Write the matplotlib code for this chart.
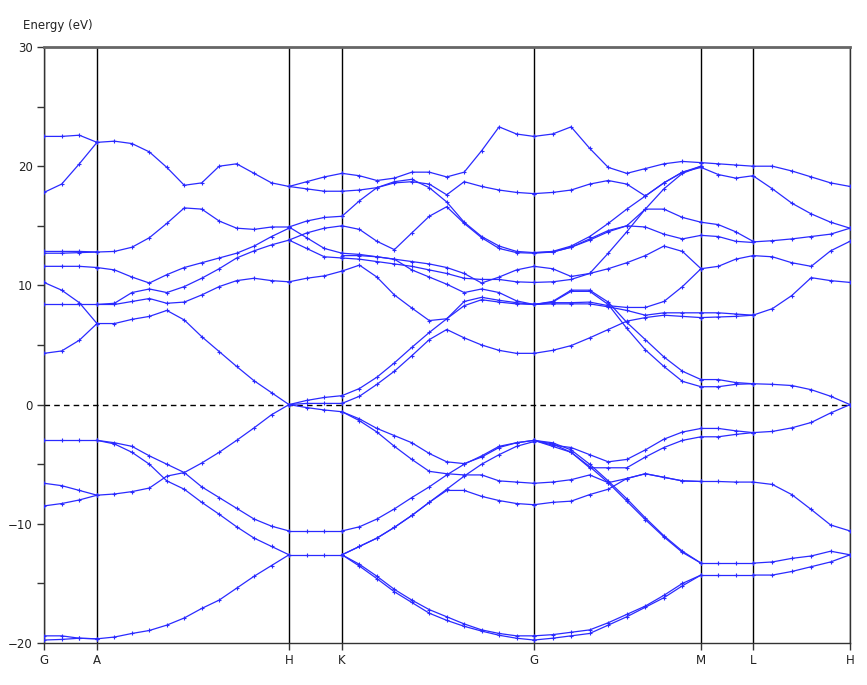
import matplotlib
matplotlib.use('Agg')
import matplotlib.pyplot as plt
import numpy as np

# high-symmetry path
kpoint_labels = ['G', 'A', 'H', 'K', 'G', 'M', 'L', 'H']
kpoint_pos = [0, 53, 245, 298, 490, 657, 709, 806]

# energies (eV) per path segment, one list per band
bands_GA = [
    [22.5, 22.5, 22.6, 22.0],
    [17.8, 18.5, 20.2, 22.0],
    [12.85, 12.85, 12.85, 12.8],
    [12.7, 12.7, 12.75, 12.8],
    [11.6, 11.6, 11.6, 11.5],
    [10.25, 9.6, 8.55, 6.8],
    [8.4, 8.4, 8.4, 8.4],
    [4.3, 4.5, 5.4, 6.8],
    [-3.0, -3.0, -3.0, -3.0],
    [-6.6, -6.8, -7.2, -7.6],
    [-8.5, -8.3, -8.0, -7.6],
    [-19.4, -19.4, -19.6, -19.65],
    [-19.75, -19.7, -19.6, -19.65],
]

bands_AH = [
    [22.0, 22.1, 21.9, 21.2, 19.9, 18.4, 18.6, 20.0, 20.2, 19.4, 18.6, 18.3],
    [12.8, 12.85, 13.2, 14.0, 15.2, 16.5, 16.4, 15.4, 14.8, 14.7, 14.9, 14.9],
    [11.5, 11.3, 10.7, 10.2, 10.9, 11.5, 11.9, 12.3, 12.7, 13.3, 14.1, 14.8],
    [8.4, 8.5, 9.4, 9.7, 9.4, 9.9, 10.6, 11.4, 12.3, 12.9, 13.4, 13.8],
    [8.4, 8.4, 8.65, 8.9, 8.5, 8.6, 9.2, 9.9, 10.4, 10.6, 10.4, 10.3],
    [6.8, 6.8, 7.15, 7.4, 7.9, 7.1, 5.7, 4.45, 3.2, 2.0, 1.0, 0.0],
    [-3.0, -3.2, -3.5, -4.3, -5.0, -5.7, -6.9, -7.8, -8.7, -9.6, -10.2, -10.6],
    [-3.0, -3.3, -4.0, -5.0, -6.4, -7.1, -8.2, -9.2, -10.25, -11.2, -11.9, -12.6],
    [-7.6, -7.5, -7.3, -7.0, -6.0, -5.7, -4.9, -4.0, -3.0, -1.95, -0.85, 0.0],
    [-19.65, -19.5, -19.2, -18.95, -18.5, -17.9, -17.1, -16.4, -15.4, -14.4, -13.5, -12.6],
]

bands_HK = [
    [18.3, 18.7, 19.1, 19.4],
    [18.3, 18.1, 17.9, 17.9],
    [14.9, 15.4, 15.7, 15.8],
    [14.9, 14.0, 13.1, 12.7],
    [13.8, 14.4, 14.8, 15.0],
    [13.8, 13.1, 12.4, 12.3],
    [10.3, 10.6, 10.8, 11.2],
    [0.0, 0.35, 0.6, 0.75],
    [0.0, 0.1, 0.1, 0.1],
    [0.0, -0.25, -0.45, -0.6],
    [-10.6, -10.6, -10.6, -10.6],
    [-12.6, -12.6, -12.6, -12.6],
]

bands_KG = [
    [19.4, 19.2, 18.8, 19.0, 19.5, 19.5, 19.1, 19.5, 21.3, 23.3, 22.7, 22.5],
    [17.9, 18.0, 18.2, 18.6, 18.7, 18.5, 17.6, 18.7, 18.3, 18.0, 17.8, 17.7],
    [15.8, 17.1, 18.2, 18.7, 18.9, 18.2, 17.0, 15.3, 14.1, 13.3, 12.85, 12.75],
    [15.0, 14.7, 13.7, 13.0, 14.4, 15.8, 16.6, 15.2, 14.0, 13.1, 12.75, 12.7],
    [12.7, 12.6, 12.4, 12.2, 12.0, 11.8, 11.5, 11.0, 10.2, 10.7, 11.3, 11.6],
    [12.3, 12.2, 12.0, 11.8, 11.6, 11.3, 11.0, 10.6, 10.5, 10.5, 10.3, 10.25],
    [12.5, 12.5, 12.4, 12.2, 11.3, 10.7, 10.1, 9.4, 9.7, 9.4, 8.7, 8.4],
    [11.2, 11.7, 10.7, 9.2, 8.1, 7.05, 7.2, 8.3, 8.8, 8.6, 8.45, 8.4],
    [0.75, 1.35, 2.3, 3.5, 4.8, 6.05, 7.2, 8.65, 9.0, 8.75, 8.55, 8.4],
    [0.1, 0.7, 1.7, 2.8, 4.1, 5.45, 6.3, 5.6, 5.0, 4.55, 4.3, 4.3],
    [-0.6, -1.2, -2.0, -2.6, -3.2, -4.1, -4.8, -4.95, -4.4, -3.6, -3.2, -3.0],
    [-0.6, -1.35, -2.3, -3.5, -4.6, -5.6, -5.8, -5.9, -5.9, -6.4, -6.5, -6.6],
    [-10.6, -10.25, -9.6, -8.75, -7.8, -6.9, -5.9, -5.0, -4.3, -3.5, -3.2, -3.0],
    [-12.6, -11.9, -11.2, -10.3, -9.3, -8.2, -7.1, -6.0, -5.0, -4.2, -3.5, -3.1],
    [-12.6, -11.9, -11.2, -10.3, -9.3, -8.2, -7.2, -7.2, -7.7, -8.05, -8.3, -8.4],
    [-12.6, -13.4, -14.4, -15.5, -16.4, -17.2, -17.8, -18.4, -18.9, -19.2, -19.4, -19.4],
    [-12.6, -13.55, -14.6, -15.7, -16.6, -17.5, -18.1, -18.6, -19.0, -19.35, -19.6, -19.75],
]

bands_GM = [
    [22.5, 22.7, 23.3, 21.5, 19.9, 19.4, 19.8, 20.2, 20.4, 20.3],
    [17.7, 17.8, 18.0, 18.5, 18.8, 18.5, 17.5, 18.6, 19.5, 19.9],
    [12.75, 12.85, 13.3, 14.1, 15.2, 16.4, 17.5, 18.6, 19.5, 20.0],
    [12.7, 12.8, 13.2, 13.8, 14.5, 15.0, 16.4, 16.4, 15.7, 15.3],
    [12.75, 12.8, 13.2, 13.9, 14.6, 15.0, 14.9, 14.3, 13.9, 14.2],
    [11.6, 11.4, 10.75, 11.0, 12.7, 14.5, 16.4, 18.1, 19.4, 20.0],
    [10.25, 10.3, 10.5, 11.0, 11.4, 11.9, 12.5, 13.3, 12.85, 11.4],
    [8.4, 8.65, 9.6, 9.6, 8.6, 6.9, 5.45, 4.0, 2.8, 2.1],
    [8.4, 8.6, 9.5, 9.5, 8.4, 6.4, 4.6, 3.2, 1.95, 1.5],
    [8.4, 8.55, 8.55, 8.6, 8.3, 8.15, 8.15, 8.65, 9.9, 11.4],
    [8.4, 8.45, 8.45, 8.45, 8.2, 7.9, 7.5, 7.7, 7.7, 7.7],
    [4.3, 4.55, 4.95, 5.6, 6.3, 7.0, 7.3, 7.5, 7.4, 7.3],
    [-3.0, -3.4, -3.6, -4.2, -4.8, -4.6, -3.8, -2.9, -2.3, -2.0],
    [-3.0, -3.5, -4.0, -5.3, -5.3, -5.3, -4.4, -3.6, -3.0, -2.7],
    [-6.6, -6.5, -6.3, -5.9, -6.55, -6.2, -5.8, -6.1, -6.4, -6.45],
    [-8.4, -8.2, -8.1, -7.55, -7.1, -6.2, -5.8, -6.1, -6.4, -6.45],
    [-3.0, -3.3, -4.0, -5.2, -6.55, -8.1, -9.65, -11.1, -12.4, -13.3],
    [-3.0, -3.2, -3.8, -5.0, -6.4, -7.9, -9.5, -11.0, -12.3, -13.3],
    [-19.4, -19.3, -19.1, -18.9, -18.3, -17.6, -16.9, -16.0, -15.0, -14.3],
    [-19.75, -19.6, -19.4, -19.2, -18.5, -17.8, -17.0, -16.2, -15.2, -14.3],
]

bands_ML = [
    [20.3, 20.2, 20.1, 20.0],
    [19.9, 19.3, 19.0, 19.2],
    [15.3, 15.1, 14.5, 13.7],
    [14.2, 14.1, 13.7, 13.6],
    [11.4, 11.6, 12.2, 12.5],
    [2.1, 2.1, 1.85, 1.75],
    [1.5, 1.5, 1.7, 1.75],
    [7.7, 7.7, 7.6, 7.5],
    [7.3, 7.35, 7.4, 7.5],
    [-2.0, -2.0, -2.2, -2.35],
    [-2.7, -2.7, -2.5, -2.35],
    [-6.45, -6.45, -6.5, -6.5],
    [-13.3, -13.3, -13.3, -13.3],
    [-14.3, -14.3, -14.3, -14.3],
]

bands_LH = [
    [20.0, 20.0, 19.6, 19.1, 18.6, 18.3],
    [19.2, 18.1, 16.9, 16.0, 15.3, 14.8],
    [13.65, 13.75, 13.9, 14.1, 14.3, 14.8],
    [12.5, 12.4, 11.9, 11.6, 12.9, 13.7],
    [7.5, 8.05, 9.15, 10.65, 10.4, 10.25],
    [1.75, 1.7, 1.6, 1.25, 0.7, 0.0],
    [-2.35, -2.25, -1.95, -1.5, -0.7, 0.0],
    [-6.5, -6.7, -7.55, -8.8, -10.1, -10.6],
    [-13.3, -13.2, -12.9, -12.7, -12.3, -12.6],
    [-14.3, -14.3, -14.0, -13.6, -13.2, -12.6],
]

segments = [bands_GA, bands_AH, bands_HK, bands_KG, bands_GM, bands_ML, bands_LH]

plt.rcParams['font.family'] = ['DejaVu Sans']

fig = plt.figure(figsize=(8.67, 6.85), dpi=100)
ax = fig.add_axes([44 / 867, 1 - 643 / 685, 806 / 867, 596 / 685])

for i, seg in enumerate(segments):
    for band in seg:
        k = np.linspace(kpoint_pos[i], kpoint_pos[i + 1], len(band))
        ax.plot(k, band, color='#2a2aff', lw=0.9, marker='+', ms=3.5, mew=0.8,
                zorder=3)

for p in kpoint_pos:
    ax.axvline(p, color='black', lw=1.0, zorder=2)
ax.axhline(0, color='black', lw=1.0, ls=(0, (4, 3)), zorder=2)

ax.set_xlim(kpoint_pos[0], kpoint_pos[-1])
ax.set_ylim(-20, 30)
ax.set_xticks(kpoint_pos)
ax.set_xticklabels(kpoint_labels)
ax.set_yticks(range(-20, 31, 10))
ax.set_yticks(range(-15, 30, 10), minor=True)
ax.tick_params(axis='both', which='both', direction='out', length=5, width=1,
               color='#333333', labelsize=8.5, labelcolor='#222222', pad=3)

for name, sp in ax.spines.items():
    sp.set_color('#333333')
    sp.set_linewidth(1.0)
ax.spines['top'].set_color('#666666')
ax.spines['top'].set_linewidth(2.0)

fig.text(23 / 867, 1 - 25 / 685, 'Energy (eV)', fontsize=8.5, color='#222222',
         va='center', ha='left')

fig.savefig('out.png', dpi=100)
